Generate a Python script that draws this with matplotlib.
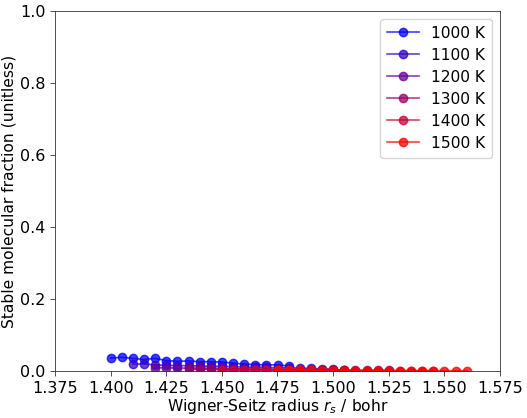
import numpy as np
import matplotlib
matplotlib.use("Agg")
import matplotlib.pyplot as plt

temps = [1000, 1100, 1200, 1300, 1400, 1500]

rs_1000 = [1.400, 1.405, 1.410, 1.415, 1.420, 1.425, 1.430, 1.435, 1.440, 1.445,
           1.450, 1.455, 1.460, 1.465, 1.470, 1.475, 1.480]
fr_1000 = [0.036, 0.038, 0.035, 0.032, 0.035, 0.029, 0.027, 0.028, 0.026, 0.026,
           0.025, 0.022, 0.019, 0.018, 0.017, 0.017, 0.014]

rs_1100 = [1.410, 1.415, 1.420, 1.425, 1.430, 1.435, 1.440, 1.445, 1.450, 1.455,
           1.460, 1.465, 1.470, 1.475, 1.480, 1.485, 1.490, 1.495, 1.500]
fr_1100 = [0.019, 0.020, 0.017, 0.016, 0.015, 0.015, 0.014, 0.013, 0.013, 0.012,
           0.011, 0.010, 0.010, 0.009, 0.009, 0.008, 0.007, 0.006, 0.005]

rs_1200 = [1.420, 1.425, 1.430, 1.435, 1.440, 1.445, 1.450, 1.455, 1.460, 1.465,
           1.470, 1.475, 1.480, 1.485, 1.490, 1.495, 1.500, 1.505]
fr_1200 = [0.009, 0.009, 0.008, 0.008, 0.008, 0.007, 0.007, 0.006, 0.006, 0.005,
           0.005, 0.005, 0.004, 0.004, 0.004, 0.003, 0.003, 0.003]

rs_1300 = [1.435, 1.440, 1.445, 1.450, 1.455, 1.460, 1.465, 1.470, 1.475, 1.480,
           1.485, 1.490, 1.495, 1.500, 1.505, 1.510, 1.515, 1.520, 1.525]
fr_1300 = [0.005, 0.005, 0.005, 0.004, 0.004, 0.004, 0.004, 0.003, 0.003, 0.003,
           0.003, 0.003, 0.002, 0.002, 0.002, 0.002, 0.002, 0.002, 0.002]

rs_1400 = [1.450, 1.455, 1.460, 1.465, 1.470, 1.475, 1.480, 1.485, 1.490, 1.495,
           1.500, 1.505, 1.510, 1.515, 1.520, 1.525, 1.530, 1.535, 1.540, 1.545]
fr_1400 = [0.003, 0.003, 0.003, 0.003, 0.002, 0.002, 0.002, 0.002, 0.002, 0.002,
           0.002, 0.002, 0.001, 0.001, 0.001, 0.001, 0.001, 0.001, 0.001, 0.001]

rs_1500 = [1.475, 1.480, 1.485, 1.490, 1.495, 1.500, 1.505, 1.510, 1.515, 1.520,
           1.525, 1.530, 1.535, 1.540, 1.545, 1.550, 1.555, 1.560]
fr_1500 = [0.002, 0.002, 0.002, 0.002, 0.001, 0.001, 0.001, 0.001, 0.001, 0.001,
           0.001, 0.001, 0.001, 0.001, 0.001, 0.001, 0.001, 0.001]

series = [(rs_1000, fr_1000), (rs_1100, fr_1100), (rs_1200, fr_1200),
          (rs_1300, fr_1300), (rs_1400, fr_1400), (rs_1500, fr_1500)]

fig = plt.figure(figsize=(5.27, 4.18), dpi=100)
ax = fig.add_axes([55/527, 1 - 371/418, 445/527, 360/418])

for i, (T, (x, y)) in enumerate(zip(temps, series)):
    t = i / (len(temps) - 1)
    color = (t, 0.0, 1.0 - t)
    ax.plot(x, y, marker='o', markersize=6, linewidth=1.2, color=color,
            alpha=0.75, label=f"{T} K")

for sp in ax.spines.values():
    sp.set_linewidth(0.6)
    sp.set_color('#333333')
ax.tick_params(width=0.6, color='#333333', labelsize=11.5, length=3.5)

ax.set_xlim(1.375, 1.575)
ax.set_ylim(0.0, 1.0)
xt = np.arange(1.375, 1.5751, 0.025)
ax.set_xticks(xt)
ax.set_xticklabels([f"{v:.3f}" for v in xt])
ax.set_xlabel(r"Wigner-Seitz radius $r_s$ / bohr", fontsize=11.2, labelpad=1)
ax.set_ylabel("Stable molecular fraction (unitless)", fontsize=11.2, labelpad=2.5)
ax.legend(fontsize=11.2, loc='upper right', labelspacing=0.45,
          handlelength=2.0, borderpad=0.45)

fig.savefig("out.png", dpi=100)
